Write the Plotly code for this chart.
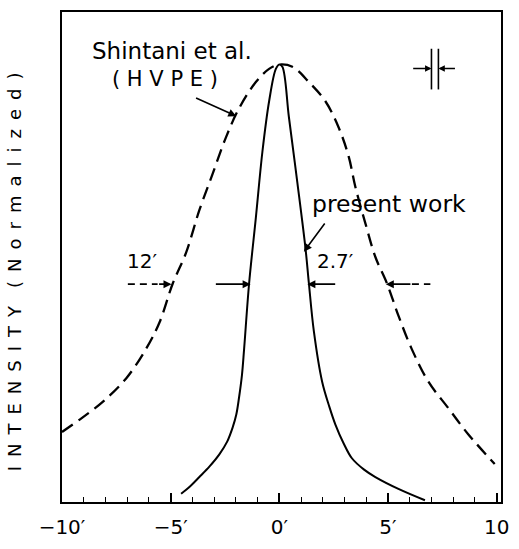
import plotly.graph_objects as go

# Shintani et al. (HVPE) rocking curve (dashed)
shintani_x = [-10.0, -9.17, -8.1, -7.04, -6.12, -5.51, -4.9, -4.29, -3.68, -3.07, -2.46,
              -1.85, -1.08, -0.47, 0.0, 0.6, 1.36, 2.12, 2.73, 3.19, 3.5, 3.96, 4.42,
              4.95, 5.48, 6.09, 6.86, 7.77, 8.69, 9.91]
shintani_y = [0.16, 0.189, 0.23, 0.283, 0.351, 0.411, 0.50, 0.57, 0.667, 0.75, 0.833,
              0.90, 0.96, 0.99, 1.0, 0.995, 0.96, 0.916, 0.856, 0.79, 0.72, 0.637, 0.56,
              0.50, 0.426, 0.35, 0.275, 0.215, 0.155, 0.087]

# present work rocking curve (solid)
present_x = [-4.52, -4.1, -3.68, -3.2, -2.76, -2.4, -2.15, -1.98, -1.85, -1.72, -1.62,
             -1.39, -1.08, -0.78, -0.47, -0.16, 0.0, 0.14, 0.44, 0.83, 1.21, 1.36, 1.59,
             1.97, 2.3, 2.58, 2.95, 3.34, 3.9, 4.42, 5.48, 6.7]
present_y = [0.019, 0.036, 0.057, 0.082, 0.109, 0.138, 0.17, 0.2, 0.24, 0.29, 0.35,
             0.50, 0.65, 0.80, 0.916, 0.99, 1.0, 0.995, 0.88, 0.73, 0.577, 0.50, 0.39,
             0.275, 0.218, 0.177, 0.135, 0.10, 0.074, 0.057, 0.030, 0.004]

tick_vals = [-10, -5, 0, 5, 10]
tick_text = ["\u221210\u2032", "\u22125\u2032", "0\u2032", "5\u2032", "10"]

FONT = "DejaVu Sans"
fig = go.Figure()
fig.add_trace(go.Scatter(x=shintani_x, y=shintani_y, mode="lines", line_shape="spline",
                         line=dict(color="black", width=2.3, dash="13px,7px"),
                         showlegend=False, hoverinfo="skip"))
fig.add_trace(go.Scatter(x=present_x, y=present_y, mode="lines", line_shape="spline",
                         line=dict(color="black", width=2),
                         showlegend=False, hoverinfo="skip"))

ann = []
def text(x, y, s, size=21, xanchor="center"):
    ann.append(dict(x=x, y=y, xref="x", yref="y", text=s, showarrow=False,
                    font=dict(family=FONT, size=size, color="black"), xanchor=xanchor))

def arrow(x0, y0, x1, y1, size=1.0, head=2, width=1.6):
    ann.append(dict(x=x1, y=y1, ax=x0, ay=y0, xref="x", yref="y", axref="x", ayref="y",
                    text="", showarrow=True, arrowhead=head, arrowsize=size,
                    arrowwidth=width, arrowcolor="black"))

text(-4.92, 1.03, "Shintani et al.", size=23)
text(-5.28, 0.968, "( H V P E )", size=21)
text(5.04, 0.681, "present work", size=23.5)
text(-6.33, 0.552, "12\u2032", size=20)
text(2.6, 0.55, "2.7\u2032", size=20)

# FWHM markers
arrow(-5.6, 0.498, -4.96, 0.498)
arrow(-2.99, 0.498, -1.32, 0.498)
arrow(2.64, 0.498, 1.29, 0.498)
arrow(6.1, 0.498, 4.9, 0.498)

# label pointer arrows
arrow(-3.9, 0.925, -1.98, 0.882)
arrow(2.14, 0.64, 1.13, 0.572)

# resolution marker arrows
arrow(6.09, 0.991, 7.0, 0.991, size=0.8)
arrow(8.15, 0.991, 7.32, 0.991, size=0.8)

# y-axis title placed as annotation to match reference position
ann.append(dict(xref="paper", yref="paper", x=-0.109, y=0.469, showarrow=False,
                textangle=-90, xanchor="center", yanchor="middle",
                text="I\u2002N\u2002T\u2002E\u2002N\u2002S\u2002I\u2002T\u2002Y\u2002\u2002(\u2002N\u2002o\u2002r\u2002m\u2002a\u2002l\u2002i\u2002z\u2002e\u2002d\u2002)",
                font=dict(family=FONT, size=18, color="black")))

shapes = [
    dict(type="line", xref="x", yref="y", x0=-6.97, x1=-5.6, y0=0.498, y1=0.498,
         line=dict(color="black", width=1.6, dash="7px,5px")),
    dict(type="line", xref="x", yref="y", x0=6.1, x1=6.95, y0=0.498, y1=0.498,
         line=dict(color="black", width=1.6, dash="7px,5px")),
    dict(type="line", xref="x", yref="y", x0=7.0, x1=7.0, y0=0.943, y1=1.036,
         line=dict(color="black", width=1.6)),
    dict(type="line", xref="x", yref="y", x0=7.32, x1=7.32, y0=0.943, y1=1.036,
         line=dict(color="black", width=1.6)),
]

fig.update_layout(
    width=519, height=549,
    margin=dict(l=62, r=16, t=10, b=44),
    paper_bgcolor="white", plot_bgcolor="white",
    annotations=ann, shapes=shapes,
    font=dict(family=FONT, color="black"),
)
fig.update_xaxes(range=[-10, 10.2], showgrid=False, zeroline=False,
                 showline=True, linecolor="black", linewidth=2, mirror=True,
                 ticks="inside", ticklen=9, tickwidth=1.5, tickcolor="black",
                 tickvals=tick_vals, ticktext=tick_text, ticklabelstandoff=6,
                 tickfont=dict(family=FONT, size=20, color="black"),
                 minor=dict(dtick=1, tick0=0, ticks="inside", ticklen=5, tickwidth=1.3,
                            tickcolor="black", showgrid=False))
fig.update_yaxes(range=[0, 1.12], showgrid=False, zeroline=False,
                 showline=True, linecolor="black", linewidth=2, mirror=True,
                 ticks="", showticklabels=False)

fig.write_html("out.html")
